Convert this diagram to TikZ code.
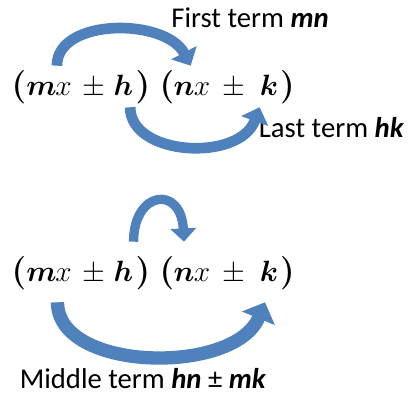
\RequirePackage{fix-cm}
\documentclass[tikz,border=0pt]{standalone}
\usepackage{amsmath}
\usepackage[no-math]{fontspec}
\setmainfont{Carlito}
\usepackage{tikz}
\usetikzlibrary{arrows.meta,positioning}
\definecolor{arrowBlue}{HTML}{4F81BD}

\begin{document}
\begin{tikzpicture}[x=0.75pt, y=-0.75pt,
  sym/.style={anchor=base, inner sep=0pt, font=\fontsize{22}{26}\selectfont},
  paren/.style={sym, font=\fontsize{25}{30}\selectfont},
  note/.style={anchor=base, inner sep=0pt, font=\fontsize{21.5}{26}\selectfont},
  flow/.style={draw=arrowBlue, line width=8pt, -{Triangle[width=21pt, length=11pt]}}
]
  \useasboundingbox (0,0) rectangle (409,394);

  % the product, written twice
  \foreach \r/\y in {A/95, B/281} {
    \node[paren] (lpa\r) at (19,\y) {$\boldsymbol{(}$};
    \node[sym] (m\r) at (41.5,\y) {$\boldsymbol{m}$};
    \node[sym] (xa\r) at (63.5,\y) {$x$};
    \node[sym] (pma\r) at (94,\y) {$\pm$};
    \node[sym] (h\r) at (123.5,\y) {$\boldsymbol{h}$};
    \node[paren] (rpa\r) at (143,\y) {$\boldsymbol{)}$};
    \node[paren] (lpb\r) at (167,\y) {$\boldsymbol{(}$};
    \node[sym] (n\r) at (184,\y) {$\boldsymbol{n}$};
    \node[sym] (xb\r) at (202,\y) {$x$};
    \node[sym] (pmb\r) at (233.5,\y) {$\pm$};
    \node[sym] (k\r) at (269,\y) {$\boldsymbol{k}$};
    \node[paren] (rpb\r) at (287.5,\y) {$\boldsymbol{)}$};
  }

  \node[note] (first) at (250,27.5) {First term \textbf{\textit{mn}}};
  \node[note] (last) at (331.5,137) {Last term \textbf{\textit{hk}}};
  \node[note] (middle) at (143,388) {Middle term \textbf{\textit{hn}} ± \textbf{\textit{mk}}};

  % first and last
  \draw[flow] ([yshift=12pt]mA.north east) .. controls +(0,-48) and +(-25,-48) .. ([xshift=5pt, yshift=12pt]nA.north);
  \draw[flow] ([xshift=5pt, yshift=-9pt]hA.south) .. controls +(0,49) and +(-20,55) .. ([xshift=-7pt, yshift=-9pt]kA.south);
  % middle
  \draw[flow, line width=7pt, -{Triangle[width=19pt, length=10pt]}] ([yshift=14pt]hB.north east) .. controls +(0,-51) and +(-3,-57) .. ([yshift=19.5pt]nB.north);
  \draw[flow, line width=10pt, -{Triangle[width=26pt, length=13pt]}] ([xshift=12pt, yshift=-15.75pt]mB.south) .. controls +(0,70) and +(-30,73) .. ([xshift=-3pt, yshift=-15.75pt]kB.south);
\end{tikzpicture}
\end{document}
